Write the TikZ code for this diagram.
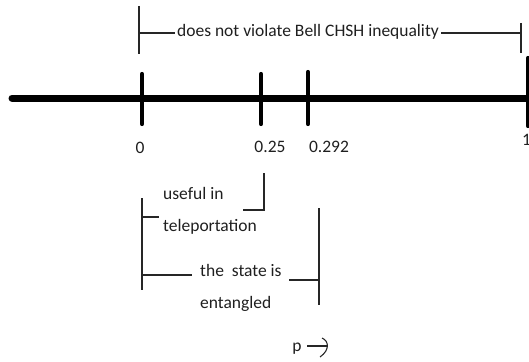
\documentclass[tikz,border=0pt]{standalone}
\usepackage{fontspec}
\setmainfont{Carlito}
\begin{document}
\begin{tikzpicture}[x=1pt,y=-1pt,
  lbl/.style={inner sep=0pt,text=black!88,font=\fontsize{17.5}{21}\selectfont},
  twoline/.style={lbl,align=left,anchor=west,font=\fontsize{17.5}{32}\selectfont},
  thin/.style={line width=1.1pt,black!85},
  tick/.style={line width=4.2pt,line cap=round},
  axis/.style={line width=7pt}]
\useasboundingbox (0,0) rectangle (529,361);
\clip (0,0) rectangle (529,361);
% axis
\coordinate (L) at (12,98);
\coordinate (R) at (535,98);
\draw[axis,line cap=round] (L) -- (R);
% ticks
\coordinate (a0) at (142,74); \coordinate (b0) at (142,124);
\coordinate (a1) at (261,74); \coordinate (b1) at (261,124);
\coordinate (a2) at (308,72); \coordinate (b2) at (308,124);
\coordinate (a3) at (528,58); \coordinate (b3) at (528,126);
\draw[tick] (a0) -- (b0);
\draw[tick] (a1) -- (b1);
\draw[tick] (a2) -- (b2);
\draw[tick] (a3) -- (b3);
% tick labels
\node[lbl] (n0) at (140,148) {0};
\node[lbl] (n1) at (270,147) {0.25};
\node[lbl] (n2) at (329,147) {0.292};
\node[lbl,anchor=west] (n3) at (522,140) {1};
% top bracket
\node[lbl,inner sep=2pt] (top) at (308,32) {does not violate Bell CHSH inequality};
\coordinate (tlt) at (139,6); \coordinate (tlb) at (139,54); \coordinate (tl) at (139,33);
\coordinate (trt) at (521,23); \coordinate (trb) at (521,53); \coordinate (tr) at (521,33);
\draw[thin] (tlt) -- (tlb);
\draw[thin] (trt) -- (trb);
\draw[thin] (tl) -- (tl -| top.west);
\draw[thin] (top.east |- tr) -- (tr);
% useful in teleportation
\node[twoline] (use) at (163,211) {useful in\\teleportation};
\coordinate (ul) at (142,217); \coordinate (ulh) at (159,217);
\coordinate (ur) at (264,210); \coordinate (urh) at (243,210); \coordinate (urt) at (264,173);
\coordinate (vlt) at (142,198); \coordinate (vlb) at (142,290);
\draw[thin] (vlt) -- (vlb);
\draw[thin] (ul) -- (ulh);
\draw[thin] (urt) -- (ur) -- (urh);
% entangled
\node[twoline] (ent) at (200,288) {the\ \ state is\\entangled};
\coordinate (el) at (142,275); \coordinate (elh) at (192,275);
\coordinate (erh) at (289,280); \coordinate (er) at (320,280);
\coordinate (ert) at (319,208); \coordinate (erb) at (319,305);
\draw[thin] (el) -- (elh);
\draw[thin] (erh) -- (er);
\draw[thin] (ert) -- (erb);
% p arrow
\node[lbl,anchor=base] (p) at (297,351) {p};
\coordinate (ps) at (307,346);
\coordinate (pe) at (328,346);
\coordinate (h1) at (322,338);
\coordinate (h2) at (320,357);
\draw[thin] (ps) -- (pe);
\draw[thin] (h1) .. controls (329,341) and (330,350) .. (h2);
\end{tikzpicture}
\end{document}
